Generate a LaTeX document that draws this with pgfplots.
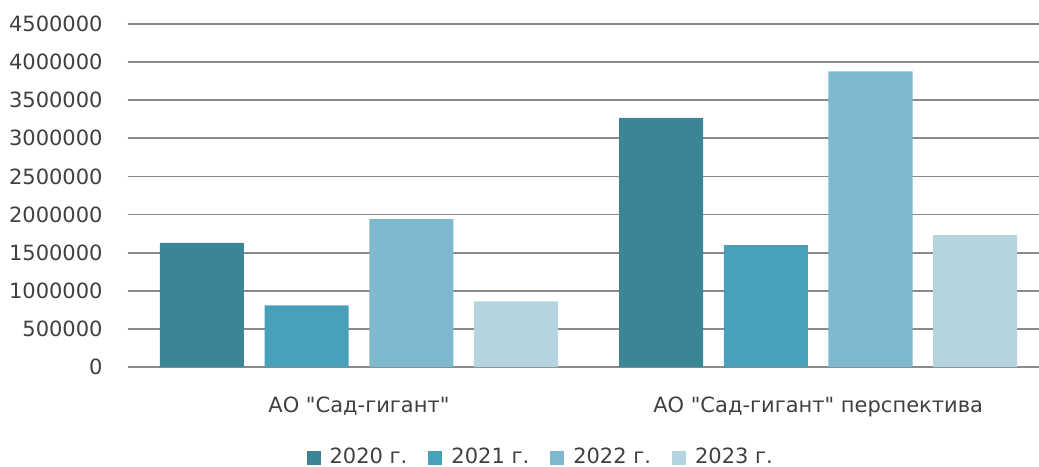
\documentclass[border=0pt]{standalone}
\usepackage{fontspec}
\setmainfont{DejaVu Sans}
\usepackage{pgfplots}
\pgfplotsset{compat=1.18}
\definecolor{c20}{HTML}{3B8599}
\definecolor{c21}{HTML}{48A1B9}
\definecolor{c22}{HTML}{7EB9CF}
\definecolor{c23}{HTML}{B6D4DF}
\definecolor{gridc}{HTML}{8A8A8A}
\definecolor{txt}{HTML}{404040}
\begin{document}
\begin{tikzpicture}[font=\fontsize{10.5}{12}\selectfont]
\useasboundingbox (-64pt,-49.5pt) rectangle (455.5pt,183.5pt);
\begin{axis}[
  at={(0,0)}, anchor=south west,
  scale only axis,
  width=455.5pt, height=171.5pt,
  xmin=-0.503, xmax=1.481,
  ymin=0, ymax=4500000,
  ytick={0,500000,...,4500000},
  scaled y ticks=false,
  yticklabel style={/pgf/number format/fixed, /pgf/number format/1000 sep={}, /pgf/number format/assume math mode=true, anchor=east, inner sep=0pt, xshift=-12.5pt, text=txt},
  xtick={0,1},
  xticklabels={АО \textquotedbl Сад-гигант\textquotedbl, АО \textquotedbl Сад-гигант\textquotedbl\ перспектива},
  xticklabel style={anchor=base, inner sep=0pt, yshift=-22.5pt, text=txt},
  axis line style={draw=none},
  major tick length=0pt,
  ymajorgrids,
  major grid style={draw=gridc, line width=0.9pt},
  legend columns=4,
  legend style={draw=none, fill=none, at={(0.452,-0.264)}, anchor=center, text=txt,
    /tikz/every even column/.append style={column sep=10.5pt},
    nodes={inner sep=0pt}},
  legend image code/.code={\fill[#1,draw=none] (0pt,-3.6pt) rectangle (7pt,3.4pt);},
  legend cell align=left,
]
\addplot[ybar, bar width=0.183, bar shift=-0.342, fill=c20, draw=none] coordinates {(0,1630000) (1,3270000)};
\addlegendentry{\hspace{4.5pt}2020 г.}
\addplot[ybar, bar width=0.183, bar shift=-0.114, fill=c21, draw=none] coordinates {(0,810000) (1,1600000)};
\addlegendentry{\hspace{4.5pt}2021 г.}
\addplot[ybar, bar width=0.183, bar shift=0.114, fill=c22, draw=none] coordinates {(0,1940000) (1,3880000)};
\addlegendentry{\hspace{4.5pt}2022 г.}
\addplot[ybar, bar width=0.183, bar shift=0.342, fill=c23, draw=none] coordinates {(0,860000) (1,1730000)};
\addlegendentry{\hspace{4.5pt}2023 г.}
\end{axis}
\end{tikzpicture}
\end{document}
